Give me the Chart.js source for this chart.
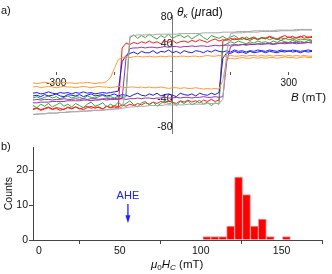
<!DOCTYPE html>
<html>
<head>
<meta charset="utf-8">
<script src="https://cdn.jsdelivr.net/npm/chart.js@4/dist/chart.umd.min.js"></script>
<style>
  body { margin: 0; width: 332px; height: 274px; background: #fff; position: relative; overflow: hidden;
         font-family: "Liberation Sans", Arial, sans-serif; color: #111; }
  canvas { position: absolute; left: 0; }
  #loops { top: 0; }
  #hist { top: 140px; }
  .lbl { position: absolute; font-size: 11px; line-height: 12px; white-space: nowrap; }
  sub { font-size: 8px; vertical-align: -2px; line-height: 0; }
</style>
</head>
<body>
<canvas id="loops" width="332" height="140"></canvas>
<canvas id="hist" width="332" height="134"></canvas>
<div class="lbl" style="left:1px;top:4px">a)</div>
<div class="lbl" style="left:1px;top:140px">b)</div>
<div class="lbl" style="left:177px;top:6px;font-size:12px"><i>θ</i><sub><i>κ</i></sub> (<i>μ</i>rad)</div>
<div class="lbl" style="left:291px;top:91px;font-size:11.5px"><i>B</i> (mT)</div>
<div class="lbl" style="left:151px;top:258px;font-size:11.5px"><i>μ</i><sub>0</sub><i>H</i><sub><i>C</i></sub> (mT)</div>
<script>
// a) Kerr hysteresis loops: field grid (mT) and rotation (µrad) per branch
const field = [
  -360,-350,-340,-330,-320,-310,-300,-290,-280,-270,
  -260,-250,-240,-230,-220,-210,-200,-190,-180,-170,
  -160,-150,-140,-130,-120,-110,-100,-90,-80,-70,
  -60,-50,-40,-30,-20,-10,0,10,20,30,
  40,50,60,70,80,90,100,110,120,130,
  140,150,160,170,180,190,200,210,220,230,
  240,250,260,270,280,290,300,310,320,330,
  340,350,360];

const grayUp = [
  -62,-62,-61,-61,-60,-60,-60,-59,-59,-59,
  -58,-58,-58,-57,-57,-57,-56,-56,-56,-55,
  -55,-54,-54,-53,-52,-51,-51,-50,-50,-50,
  -49,-49,-49,-49,-48,-48,-48,-48,-48,-48,
  -47,-47,-47,-47,-47,-46,-46,-46,-46,-40,
  30,56,57,57,57,58,58,58,58,59,
  59,59,59,59,60,60,60,60,60,61,
  61,61,61];
const grayDown = [
  -62,-61,-61,-61,-60,-60,-60,-59,-59,-58,
  -58,-58,-57,-57,-57,-56,-56,-56,-55,-55,
  -54,-54,-53,-51,-30,52,53,54,54,54,
  54,54,55,55,55,55,55,55,56,56,
  56,56,56,56,57,57,57,57,57,58,
  58,58,58,59,59,59,59,60,60,60,
  60,60,60,61,61,61,61,61,62,62,
  62,62,62];

const orangeUp = [
  -22,-21,-23,-22,-21,-22,-23,-22,-21,-22,
  -22,-23,-22,-21,-22,-23,-22,-21,-22,-22,
  -23,-22,-21,-22,-23,-22,-22,-23,-22,-23,
  -22,-23,-23,-22,-23,-24,-23,-23,-24,-23,
  -24,-24,-23,-24,-25,-24,-25,-24,-25,-12,
  19,20,19,20,21,20,20,21,20,21,
  20,21,21,20,21,22,21,21,20,21,
  22,21,21];
const orangeDown = [
  -16,-17,-16,-15,-16,-17,-16,-16,-15,-16,
  -16,-17,-16,-16,-15,-16,-17,-16,-16,-14,
  -8,5,18,21,22,21,22,23,22,22,
  23,22,22,23,22,23,23,22,23,23,
  22,23,23,22,23,24,23,23,24,23,
  23,24,23,23,24,23,24,24,23,24,
  23,24,23,24,24,23,24,23,24,23,
  24,23,23];

const purpleUp = [
  -45,-45,-44,-44,-44,-43,-43,-43,-43,-42,
  -42,-42,-42,-41,-41,-42,-41,-41,-40,-41,
  -40,-40,-40,-39,-40,-39,-39,-38,-39,-38,
  -38,-39,-38,-38,-37,-38,-38,-37,-38,-37,
  -37,-38,-37,-37,-36,-37,-37,-36,-37,-36,
  15,37,39,39,40,39,40,40,41,40,
  41,41,40,41,42,41,42,42,41,42,
  42,43,42];
const purpleDown = [
  -41,-40,-41,-40,-40,-41,-40,-40,-39,-40,
  -40,-39,-40,-39,-40,-39,-39,-40,-39,-39,
  -39,-39,-38,-39,20,34,35,35,36,35,
  36,36,35,36,37,36,37,37,36,37,
  37,38,37,38,38,37,38,39,38,39,
  39,39,40,39,40,40,41,40,41,41,
  41,42,41,42,42,43,42,43,43,42,
  43,43,44];

const blueUp = [
  -35,-34,-36,-33,-35,-34,-32,-35,-36,-33,
  -34,-35,-33,-36,-34,-32,-35,-34,-33,-35,
  -34,-32,-35,-33,-34,-36,-33,-31,-34,-35,
  -32,-34,-31,-35,-33,-32,-34,-36,-31,-33,
  -34,-32,-35,-31,-33,-34,-31,-33,-30,20,
  28,27,30,28,29,27,30,28,29,30,
  28,30,29,28,30,29,31,29,30,28,
  30,29,30];
const blueDown = [
  -31,-30,-32,-31,-29,-31,-32,-30,-31,-30,
  -32,-30,-31,-29,-31,-30,-32,-31,-30,-31,
  -30,-29,-28,15,24,27,29,26,30,28,
  28,31,27,30,29,32,28,30,27,31,
  29,28,31,30,28,31,29,32,30,29,
  31,29,32,30,31,29,31,30,32,31,
  30,32,31,30,32,31,30,32,31,30,
  31,32,31];

const greenUp = [
  -49,-52,-47,-50,-46,-51,-48,-45,-50,-47,
  -51,-46,-49,-52,-47,-44,-50,-48,-45,-51,
  -47,-50,-44,-49,-46,-42,-48,-51,-45,-43,
  -48,-44,-50,-46,-41,-47,-44,-49,-43,-46,
  -42,-48,-45,-41,-47,-44,-49,-45,-47,38,
  41,44,42,45,43,41,44,42,45,43,
  44,42,45,43,46,44,43,46,44,45,
  43,46,45];
const greenDown = [
  -38,-36,-39,-37,-35,-38,-36,-39,-37,-35,
  -38,-36,-37,-39,-35,-37,-38,-36,-34,-37,
  -36,-38,-35,-37,-36,50,54,49,53,50,
  55,51,48,53,50,55,49,52,54,50,
  53,48,52,55,50,47,53,51,49,52,
  48,51,53,49,47,51,48,50,47,49,
  50,47,49,48,46,49,47,48,46,48,
  47,48,46];

const redUp = [
  -55,-53,-56,-54,-52,-55,-53,-56,-54,-52,
  -54,-51,-53,-55,-52,-50,-53,-51,-54,-50,
  -52,-49,-51,-48,-50,-47,-49,-46,-48,-45,
  -47,-44,-46,-43,-45,-42,-44,-46,-42,-44,
  -41,-44,-42,-45,-41,-43,-40,-43,-41,45,
  48,46,49,47,50,48,46,49,47,50,
  48,51,49,47,50,48,51,49,50,52,
  49,51,50];
const redDown = [
  -54,-52,-55,-53,-51,-54,-52,-53,-55,-51,
  -53,-51,-54,-52,-50,-53,-51,-52,-54,-50,
  -52,-51,-53,35,42,40,43,41,44,42,
  45,42,44,41,45,43,46,42,44,45,
  43,46,44,47,45,43,46,48,45,47,
  46,49,47,48,50,47,49,51,48,50,
  49,52,50,48,51,53,50,52,49,51,
  53,50,52];

const fieldTicks = [-300, -150, 0, 150, 300];
const fieldTickLabels = ['-300', '', '', '', '300'];
const kerrTicks = [-80, -40, 0, 40, 80];
const kerrTickLabels = ['-80', '-40', '', '40', '80'];

// b) histogram of coercive fields
const hcBins = [103.8, 108.7, 113.6, 118.5, 123.4, 128.3, 133.2, 138.1, 143.0, 153.0];
const hcCounts = [1, 1, 1, 4, 18, 13, 4, 6, 1, 1];
const hcTicks = [0, 50, 100, 150];
const countTicks = [0, 10, 20];
const aheField = 55;          // mT
const aheArrow = [10.3, 4.8]; // counts: tail, tip
const aheText = 12.6;         // counts

Chart.defaults.font.family = '"Liberation Sans", Arial, sans-serif';
Chart.defaults.color = '#111';

const loops = [
  { color: '#a8a8a8', up: grayUp, down: grayDown },
  { color: '#ff9933', up: orangeUp, down: orangeDown },
  { color: '#9933aa', up: purpleUp, down: purpleDown },
  { color: '#1a1aff', up: blueUp, down: blueDown },
  { color: '#33aa33', up: greenUp, down: greenDown },
  { color: '#ff1a1a', up: redUp, down: redDown }
];

function loopPoints(l) {
  const pts = field.map((b, i) => ({ x: b, y: l.up[i] }));
  for (let i = field.length - 1; i >= 0; i--) pts.push({ x: field[i], y: l.down[i] });
  return pts;
}

new Chart(document.getElementById('loops'), {
  type: 'line',
  data: {
    datasets: loops.map(l => ({
      data: loopPoints(l),
      borderColor: l.color,
      borderWidth: 1,
      pointRadius: 0,
      tension: 0,
      fill: false
    }))
  },
  options: {
    responsive: false,
    animation: false,
    layout: { padding: { left: 33, right: 20, top: 15, bottom: 6 } },
    plugins: { legend: { display: false }, tooltip: { enabled: false } },
    scales: {
      x: {
        type: 'linear', min: -360, max: 360, position: { y: 0 },
        afterFit: s => { s.height = 0; },
        afterBuildTicks: s => { s.ticks = fieldTicks.map(v => ({ value: v })); },
        grid: { drawOnChartArea: false, drawTicks: true, tickLength: 3, color: '#555' },
        border: { display: false },
        ticks: { callback: (v, i) => fieldTickLabels[i], font: { size: 10 }, padding: 2,
                 maxRotation: 0, autoSkip: false, color: '#111' }
      },
      y: {
        type: 'linear', min: -90, max: 83, position: { x: 0 },
        afterFit: s => { s.width = 0; },
        afterBuildTicks: s => { s.ticks = kerrTicks.map(v => ({ value: v })); },
        grid: { drawOnChartArea: false, drawTicks: true, tickLength: 2, color: '#777' },
        border: { display: true, color: '#777' },
        ticks: { callback: (v, i) => kerrTickLabels[i], font: { size: 10.5 }, padding: 0,
                 autoSkip: false, color: '#111' }
      }
    }
  }
});

const aheMarker = {
  id: 'aheMarker',
  afterDatasetsDraw(chart) {
    const { ctx, scales: { x, y } } = chart;
    const px = x.getPixelForValue(aheField);
    const yTail = y.getPixelForValue(aheArrow[0]);
    const yTip = y.getPixelForValue(aheArrow[1]);
    ctx.save();
    ctx.strokeStyle = '#2020ff';
    ctx.fillStyle = '#2020ff';
    ctx.lineWidth = 1.3;
    ctx.beginPath();
    ctx.moveTo(px, yTail);
    ctx.lineTo(px, yTip - 6);
    ctx.stroke();
    ctx.beginPath();
    ctx.moveTo(px - 2.5, yTip - 8);
    ctx.lineTo(px + 2.5, yTip - 8);
    ctx.lineTo(px, yTip);
    ctx.closePath();
    ctx.fill();
    ctx.font = '11px "Liberation Sans", Arial, sans-serif';
    ctx.textAlign = 'center';
    ctx.textBaseline = 'middle';
    ctx.fillText('AHE', px, y.getPixelForValue(aheText));
    ctx.restore();
  }
};

new Chart(document.getElementById('hist'), {
  type: 'bar',
  data: {
    datasets: [{
      data: hcBins.map((b, i) => ({ x: b, y: hcCounts[i] })),
      backgroundColor: '#ff0000',
      borderColor: '#ff9090',
      borderWidth: 1,
      barThickness: 8
    }]
  },
  options: {
    responsive: false,
    animation: false,
    layout: { padding: { left: 0, right: 10, top: 7, bottom: 0 } },
    plugins: { legend: { display: false }, tooltip: { enabled: false } },
    scales: {
      x: {
        type: 'linear', min: -3.7, max: 175, offset: false,
        afterFit: s => { s.height = 34; },
        afterBuildTicks: s => { s.ticks = hcTicks.map(v => ({ value: v })); },
        grid: { drawOnChartArea: false, drawTicks: true, tickLength: 4, color: '#444' },
        border: { display: true, color: '#444' },
        ticks: { font: { size: 10.5 }, padding: 1, maxRotation: 0, autoSkip: false }
      },
      y: {
        type: 'linear', min: 0, max: 26.5,
        afterFit: s => { s.width = 33; },
        afterBuildTicks: s => { s.ticks = countTicks.map(v => ({ value: v })); },
        grid: { drawOnChartArea: false, drawTicks: true, tickLength: 4, color: '#444' },
        border: { display: true, color: '#444' },
        ticks: { font: { size: 10.5 }, padding: 1, autoSkip: false },
        title: { display: true, text: 'Counts', font: { size: 10.5 }, padding: { top: 3, bottom: 0 } }
      }
    }
  },
  plugins: [aheMarker]
});
</script>
</body>
</html>
